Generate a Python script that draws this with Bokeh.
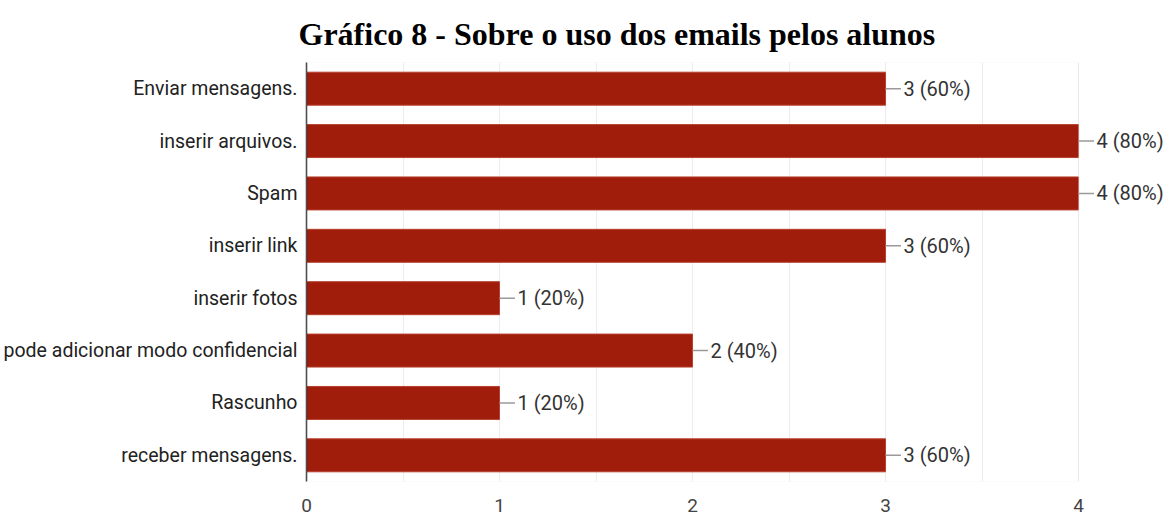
from bokeh.plotting import figure
from bokeh.models import FactorRange, Range1d, FixedTicker, BoxAnnotation, ColumnDataSource
from bokeh.core.properties import value
from bokeh.embed import file_html
from bokeh.resources import INLINE

title_text = "Gráfico 8 - Sobre o uso dos emails pelos alunos"
categories = ["Enviar mensagens.", "inserir arquivos.", "Spam", "inserir link",
              "inserir fotos", "pode adicionar modo confidencial", "Rascunho",
              "receber mensagens."]
counts = [3, 4, 4, 3, 1, 2, 1, 3]
percents = [60, 80, 80, 60, 20, 40, 20, 60]
x_ticks = [0, 1, 2, 3, 4]

labels = [f"{c} ({p}%)" for c, p in zip(counts, percents)]
lead_end = [c + 0.08 for c in counts]

src = ColumnDataSource(dict(cat=categories, val=counts, lab=labels, lend=lead_end))

LABEL_FONT = "Roboto"

p = figure(width=1168, height=516, output_backend="svg", toolbar_location=None,
           y_range=FactorRange(factors=list(reversed(categories)), range_padding=0),
           x_range=Range1d(0, 4.466),
           min_border_left=306, min_border_right=0, min_border_top=62, min_border_bottom=35,
           title=title_text)

p.title.text_font = "Liberation Serif"
p.title.text_font_size = "32px"
p.title.text_font_style = "bold"
p.title.text_color = "#000000"
p.title.align = "left"
p.title.offset = -8
p.title.standoff = 21

p.outline_line_color = None
p.background_fill_color = "white"

p.hbar(y="cat", right="val", left=0, height=0.63, source=src,
       fill_color="#A11D0B", line_color="#B8402F", line_width=1)
p.segment(x0="val", y0="cat", x1="lend", y1="cat", source=src,
          line_color="#9a9a9a", line_width=1.5)
p.text(x="val", y="cat", text="lab", source=src, x_offset=18,
       text_font=value(LABEL_FONT), text_font_size="20px",
       text_color="#333333", text_baseline="middle", text_align="left")

box = BoxAnnotation(left=0, right=4, fill_alpha=0, line_color="#e4e4e4", line_width=1)
p.add_layout(box)

p.xgrid.ticker = FixedTicker(ticks=[0.5, 1, 1.5, 2, 2.5, 3, 3.5, 4])
p.xgrid.grid_line_color = "#ececec"
p.ygrid.grid_line_color = None

p.xaxis.ticker = FixedTicker(ticks=x_ticks)
p.xaxis.axis_line_color = None
p.xaxis.major_tick_line_color = None
p.xaxis.minor_tick_line_color = None
p.xaxis.major_label_standoff = 11
p.xaxis.major_label_text_font = LABEL_FONT
p.xaxis.major_label_text_font_size = "19px"
p.xaxis.major_label_text_color = "#444444"

p.yaxis.axis_line_color = "#333333"
p.yaxis.axis_line_width = 1.5
p.yaxis.major_tick_line_color = None
p.yaxis.minor_tick_line_color = None
p.yaxis.major_label_standoff = 3
p.yaxis.major_label_text_font = LABEL_FONT
p.yaxis.major_label_text_font_size = "19.5px"
p.yaxis.major_label_text_color = "#222222"

open("out.html", "w").write(file_html(p, INLINE))
